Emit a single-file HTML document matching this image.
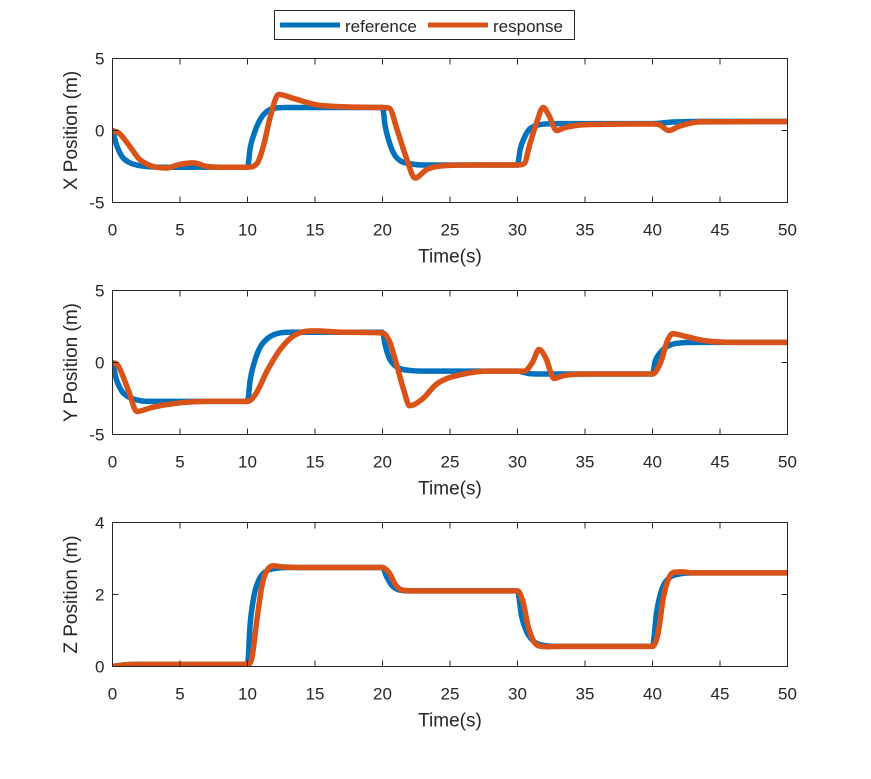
<!DOCTYPE html>
<html><head><meta charset="utf-8"><style>
body{margin:0;background:#fff;}
svg text{font-family:"Liberation Sans",Arial,sans-serif;fill:#262626;}
</style></head><body>
<svg id="c" width="871" height="774" xmlns="http://www.w3.org/2000/svg">
<rect width="871" height="774" fill="#fff"/>
<g>
<rect x="274.5" y="10.5" width="300" height="29" fill="#fff" stroke="#262626" stroke-width="1"/>
<line x1="280" y1="25" x2="340" y2="25" stroke="#0072BD" stroke-width="5"/>
<text x="345" y="32" font-size="17">reference</text>
<line x1="428" y1="25" x2="488" y2="25" stroke="#D95319" stroke-width="5"/>
<text x="493" y="32" font-size="17">response</text>
</g>
</svg>
<script>
const xTicks=[0,5,10,15,20,25,30,35,40,45,50];
// X position
const xRefT=[0,0.3,0.7,1.2,1.8,2.5,3.5,5,10,10.2,10.5,10.9,11.4,12,13,20,20.2,20.5,20.9,21.4,22,23,30,30.2,30.5,30.9,31.4,32,33,40,40.5,41,41.8,42.6,44,50];
const xRefV=[0,-1,-1.8,-2.2,-2.4,-2.5,-2.55,-2.55,-2.55,-1.2,-0.2,0.7,1.3,1.55,1.6,1.6,0.3,-0.8,-1.7,-2.15,-2.3,-2.4,-2.4,-1.3,-0.5,0.1,0.35,0.45,0.48,0.48,0.5,0.55,0.6,0.62,0.63,0.63];
const xResT=[0,0.5,1.2,2,3,4,5,6,7,8,10,10.7,11.2,11.7,12.3,13.5,15,17,20,20.5,21.1,21.8,22.4,23.3,24.5,27,30,30.5,30.9,31.4,31.9,32.3,32.9,33.5,35,40,40.5,41.2,42,43.5,50];
const xResV=[0,-0.2,-1,-2,-2.5,-2.6,-2.35,-2.25,-2.5,-2.55,-2.55,-2.3,-1,1,2.5,2.2,1.8,1.65,1.6,1.55,0,-2,-3.3,-2.7,-2.45,-2.4,-2.4,-2.3,-1,0.5,1.6,1.1,0,0.2,0.4,0.45,0.4,0,0.3,0.6,0.62];
// Y position
const yRefT=[0,0.3,0.7,1.2,1.8,2.5,3.5,5,10,10.2,10.5,10.9,11.4,12,13,20,20.2,20.5,20.9,21.4,22,23,30,30.5,31,32,40,40.2,40.5,40.9,41.4,42,43,50];
const yRefV=[0,-1.2,-2,-2.4,-2.6,-2.7,-2.7,-2.7,-2.7,-1.2,0,1,1.6,1.95,2.1,2.1,1.2,0.3,-0.2,-0.45,-0.55,-0.6,-0.6,-0.7,-0.78,-0.8,-0.8,0.1,0.6,1,1.25,1.35,1.4,1.4];
const yResT=[0,0.4,1.2,1.8,3,5,7,10,10.6,11.5,12.5,13.5,15,17,20,20.5,21,21.6,22,23,24,26,28,30.5,31.1,31.6,32.1,32.7,33.5,35,40,40.6,41.1,41.5,42.5,44,46,50];
const yResV=[0,-0.2,-2,-3.4,-3.1,-2.8,-2.7,-2.7,-2.2,-0.5,1,1.9,2.2,2.1,2.05,1.5,0,-2,-3,-2.5,-1.5,-0.8,-0.6,-0.6,0,0.9,0.3,-1.1,-0.9,-0.8,-0.8,0,1.5,2,1.8,1.5,1.4,1.4];
// Z position
const zRefT=[0,0.5,1,2,10,10.2,10.5,10.9,11.4,12,13,20,20.3,20.7,21.2,22,30,30.3,30.7,31.2,32,33,40,40.3,40.7,41.2,42,43,50];
const zRefV=[0,0.03,0.05,0.06,0.06,1.2,2,2.45,2.65,2.72,2.75,2.75,2.5,2.25,2.13,2.1,2.1,1.4,0.95,0.7,0.58,0.56,0.56,1.5,2.15,2.45,2.57,2.6,2.6];
const zResT=[0,0.5,1,2,10,10.3,10.7,11.1,11.5,11.9,12.5,14,20,20.5,21,21.5,22.5,30,30.4,30.8,31.2,31.6,32.3,33,40,40.4,40.8,41.2,41.6,42.2,43,50];
const zResV=[0,0.03,0.05,0.06,0.06,0.2,1.3,2.3,2.7,2.8,2.77,2.75,2.75,2.6,2.25,2.12,2.1,2.1,1.8,1.1,0.7,0.57,0.55,0.56,0.56,0.9,1.9,2.45,2.62,2.63,2.6,2.6];

const svg=document.getElementById('c');
const NS='http://www.w3.org/2000/svg';
function mk(tag,attrs,parent){const e=document.createElementNS(NS,tag);for(const k in attrs)e.setAttribute(k,attrs[k]);(parent||svg).appendChild(e);return e;}
// monotone cubic (Fritsch-Carlson) path in screen coords
function pathFrom(p){
  const n=p.length,d=[],m=new Array(n);
  for(let i=0;i<n-1;i++)d.push((p[i+1][1]-p[i][1])/(p[i+1][0]-p[i][0]));
  m[0]=d[0];m[n-1]=d[n-2];
  for(let i=1;i<n-1;i++){ if(d[i-1]*d[i]<=0)m[i]=0; else { m[i]=(d[i-1]+d[i])/2; } }
  for(let i=0;i<n-1;i++){
    if(d[i]===0){m[i]=0;m[i+1]=0;continue;}
    const a=m[i]/d[i],b=m[i+1]/d[i],s=a*a+b*b;
    if(s>9){const t=3/Math.sqrt(s);m[i]=t*a*d[i];m[i+1]=t*b*d[i];}
  }
  let s='M'+p[0][0].toFixed(2)+','+p[0][1].toFixed(2);
  for(let i=0;i<n-1;i++){
    const h=(p[i+1][0]-p[i][0])/3;
    s+='C'+(p[i][0]+h).toFixed(2)+','+(p[i][1]+m[i]*h).toFixed(2)+' '+(p[i+1][0]-h).toFixed(2)+','+(p[i+1][1]-m[i+1]*h).toFixed(2)+' '+p[i+1][0].toFixed(2)+','+p[i+1][1].toFixed(2);
  }
  return s;
}
const L=112.5,R=787.5;
function panel(name,top,bot,ymin,ymax,yTicks,ylabel,series){
  const g=mk('g',{});
  
  
  const sx=t=>L+(t/50)*(R-L);
  const sy=v=>bot-(v-ymin)/(ymax-ymin)*(bot-top);
  mk('rect',{x:L,y:top,width:R-L,height:bot-top,fill:'#fff'},g);
  const cp='clip-'+name;
  const cpEl=mk('clipPath',{id:cp},g);mk('rect',{x:L,y:top,width:R-L,height:bot-top},cpEl);
  const lg=mk('g',{'clip-path':'url(#'+cp+')'},g);
  series.forEach(s=>{
    const pts=s.t.map((t,i)=>[sx(t),sy(s.v[i])]);
    const p=mk('path',{d:pathFrom(pts),fill:'none',stroke:s.c,'stroke-width':5.5,'stroke-linejoin':'round','stroke-linecap':'round'},lg);
    
    
  });
  mk('rect',{x:L,y:top,width:R-L,height:bot-top,fill:'none',stroke:'#262626','stroke-width':1},g);
  xTicks.forEach(t=>{
    const x=sx(t);
    mk('line',{x1:x,y1:bot,x2:x,y2:bot-6,stroke:'#262626'},g);
    mk('line',{x1:x,y1:top,x2:x,y2:top+6,stroke:'#262626'},g);
    const tx=mk('text',{x:x,y:bot+33,'font-size':17,'text-anchor':'middle'},g);tx.textContent=t;
    
    
  });
  yTicks.forEach(v=>{
    const y=sy(v);
    mk('line',{x1:L,y1:y,x2:L+6,y2:y,stroke:'#262626'},g);
    mk('line',{x1:R,y1:y,x2:R-6,y2:y,stroke:'#262626'},g);
    const tx=mk('text',{x:L-8,y:y+6,'font-size':17,'text-anchor':'end'},g);tx.textContent=v;
    
    
  });
  const xl=mk('text',{x:(L+R)/2,y:bot+60,'font-size':19,'text-anchor':'middle'},g);xl.textContent='Time(s)';
  
  
  const cy=(top+bot)/2;
  const yl=mk('text',{x:77,y:cy,'font-size':19,'text-anchor':'middle',transform:'rotate(-90 77 '+cy+')'},g);yl.textContent=ylabel;
  
  
}
panel('x-position',58.5,202.5,-5,5,[-5,0,5],'X Position (m)',[{n:'reference',t:xRefT,v:xRefV,c:'#0072BD'},{n:'response',t:xResT,v:xResV,c:'#D95319'}]);
panel('y-position',290.5,434.5,-5,5,[-5,0,5],'Y Position (m)',[{n:'reference',t:yRefT,v:yRefV,c:'#0072BD'},{n:'response',t:yResT,v:yResV,c:'#D95319'}]);
panel('z-position',522.5,666.5,0,4,[0,2,4],'Z Position (m)',[{n:'reference',t:zRefT,v:zRefV,c:'#0072BD'},{n:'response',t:zResT,v:zResV,c:'#D95319'}]);
</script>
</body></html>
